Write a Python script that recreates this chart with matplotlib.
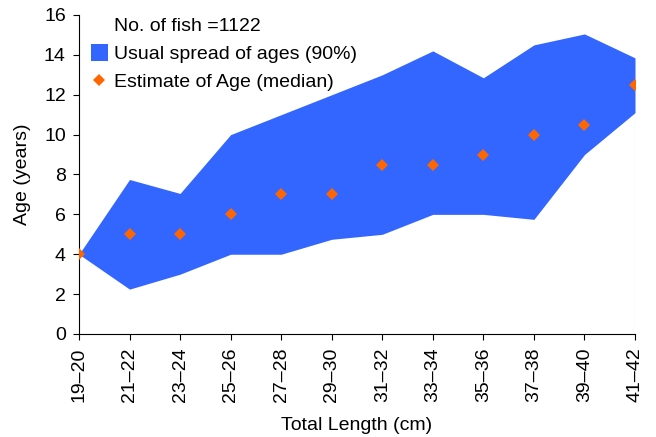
import matplotlib
matplotlib.use('Agg')
from matplotlib import pyplot as plt
from matplotlib.patches import Patch
from matplotlib.lines import Line2D

plt.rcParams['font.family'] = ['Liberation Sans', 'DejaVu Sans']

# length classes (cm)
lengths = ['19–20', '21–22', '23–24', '25–26', '27–28', '29–30',
           '31–32', '33–34', '35–36', '37–38', '39–40', '41–42']
# 90% spread of ages, lower and upper bounds
lower = [4, 2.25, 3, 4, 4, 4.75, 5, 6, 6, 5.75, 9, 11.1]
upper = [4, 7.75, 7.05, 10, 11, 12, 13, 14.2, 12.85, 14.5, 15.05, 13.85]
# median age estimate
median = [4, 5, 5, 6, 7, 7, 8.5, 8.5, 9, 10, 10.5, 12.5]

blue = '#3366ff'
orange = '#ff6600'

fig = plt.figure(figsize=(6.56, 4.37), dpi=100)
ax = fig.add_axes([0.1204, 0.2357, 0.8476, 0.73])

x = list(range(len(lengths)))
ax.fill_between(x, lower, upper, color=blue, linewidth=0, zorder=2)
# faint edge line the original chart leaves at the last category
ax.plot([x[-1], x[-1]], [0, lower[-1]], color='#c8d4f8', lw=0.8, zorder=1)
ax.plot(x, median, linestyle='none', marker='D', markersize=6,
        color=orange, markeredgewidth=0, zorder=3)

ax.set_xlim(0, len(lengths) - 1)
ax.set_ylim(0, 16)
ax.set_yticks(range(0, 17, 2))
ax.set_xticks(x)
ax.set_xticklabels(lengths, rotation=90)

ax.spines['top'].set_visible(False)
ax.spines['right'].set_visible(False)
ax.tick_params(axis='both', direction='out', length=4.5, labelsize=14, colors='black')
ax.tick_params(axis='x', pad=5)
ax.tick_params(axis='y', pad=5)

ax.set_xlabel('Total Length (cm)', fontsize=14, labelpad=11)
ax.set_ylabel('Age (years)', fontsize=14, labelpad=9)

handles = [Line2D([], [], linestyle='none'),
           Patch(facecolor=blue, edgecolor='none'),
           Line2D([], [], linestyle='none', marker='D', markersize=6,
                  color=orange, markeredgewidth=0)]
labels = ['No. of fish =1122', 'Usual spread of ages (90%)', 'Estimate of Age (median)']
ax.legend(handles, labels, loc='upper left', bbox_to_anchor=(0.008, 1.022),
          frameon=False, fontsize=14, handlelength=0.85, handleheight=1.0,
          handletextpad=0.3, labelspacing=0.45, borderaxespad=0)

fig.savefig('out.png', dpi=100)
